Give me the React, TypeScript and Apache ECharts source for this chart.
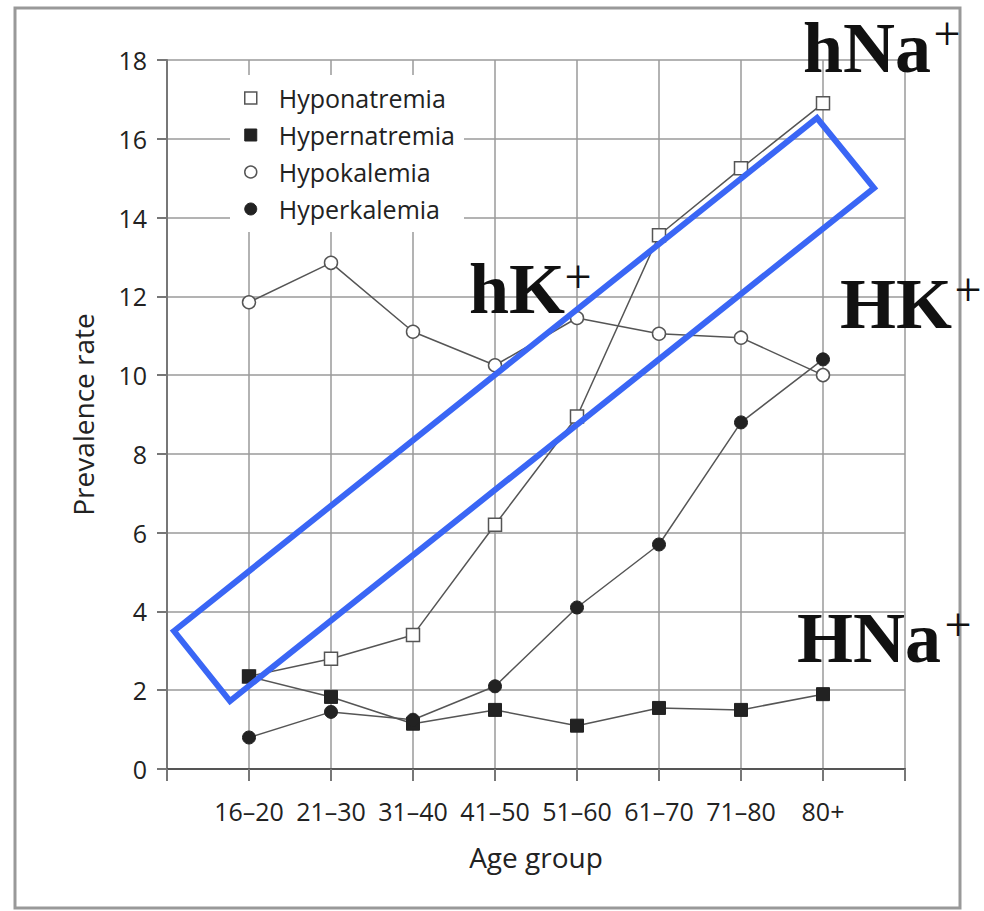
import React, { useEffect, useRef } from "react";
import * as echarts from "echarts";

const categories = ["16–20", "21–30", "31–40", "41–50", "51–60", "61–70", "71–80", "80+"];
const hyponatremia = [2.35, 2.8, 3.4, 6.2, 8.95, 13.55, 15.25, 16.9];
const hypernatremia = [2.35, 1.83, 1.15, 1.5, 1.1, 1.55, 1.5, 1.9];
const hypokalemia = [11.85, 12.85, 11.1, 10.25, 11.45, 11.05, 10.95, 10.0];
const hyperkalemia = [0.8, 1.45, 1.25, 2.1, 4.1, 5.7, 8.8, 10.4];

const FONT = '"Open Sans", "Liberation Sans", sans-serif';
const SERIF = '"Liberation Serif", "Times New Roman", serif';

const openStyle = { color: "#fff", borderColor: "#555", borderWidth: 1.5 };
const filledStyle = { color: "#222", borderColor: "#222", borderWidth: 1 };

function mk(name: string, data: number[], symbol: string, filled: boolean, z: number) {
  return {
    name,
    type: "line",
    data: data.map((v, i) => [i + 1, v]),
    symbol,
    symbolSize: 13,
    showSymbol: true,
    lineStyle: { color: "#555", width: 1.5 },
    itemStyle: filled ? filledStyle : openStyle,
    emphasis: { disabled: true },
    z,
  };
}

export default function App() {
  const ref = useRef<HTMLDivElement>(null);
  useEffect(() => {
    if (!ref.current) return;
    const chart = echarts.init(ref.current, undefined, { renderer: "svg" });
    const gridLine = { show: true, lineStyle: { color: "#9a9a9a", width: 1.5 } };
    const sup = (x: number, y: number) => ({
      type: "text",
      z: 100,
      style: {
        text: "+",
        x,
        y,
        font: `48px ${SERIF}`,
        fill: "#111",
        textAlign: "center",
        textVerticalAlign: "middle",
      },
    });
    const big = (text: string, x: number, y: number) => ({
      type: "text",
      z: 100,
      style: {
        text,
        x,
        y,
        font: `bold 72px ${SERIF}`,
        fill: "#111",
        textAlign: "left",
        textVerticalAlign: "middle",
      },
    });
    chart.setOption({
      animation: false,
      backgroundColor: "#fff",
      textStyle: { fontFamily: FONT },
      grid: { left: 167, right: 79, top: 60, bottom: 142, containLabel: false },
      xAxis: {
        type: "value",
        min: 0,
        max: 9,
        interval: 1,
        name: "Age group",
        nameLocation: "middle",
        nameGap: 74,
        nameTextStyle: { fontSize: 28, color: "#222", fontFamily: FONT },
        axisLine: { show: true, onZero: false, lineStyle: { color: "#555", width: 2 } },
        axisTick: { show: true, length: 12, lineStyle: { color: "#777", width: 2 } },
        axisLabel: {
          fontSize: 25,
          color: "#222",
          margin: 29,
          fontFamily: FONT,
          formatter: (v: number) => categories[v - 1] ?? "",
        },
        splitLine: gridLine,
      },
      yAxis: {
        type: "value",
        min: 0,
        max: 18,
        interval: 2,
        name: "Prevalence rate",
        nameLocation: "middle",
        nameGap: 70,
        nameTextStyle: { fontSize: 28, color: "#222", fontFamily: FONT },
        axisLine: { show: true, lineStyle: { color: "#777", width: 2 } },
        axisTick: { show: true, length: 10, lineStyle: { color: "#777", width: 2 } },
        axisLabel: { fontSize: 25, color: "#222", margin: 20, fontFamily: FONT },
        splitLine: gridLine,
      },
      legend: {
        orient: "vertical",
        left: 230,
        top: 75,
        backgroundColor: "#fff",
        padding: [10, 9, 10, 14],
        itemWidth: 12,
        itemHeight: 12,
        itemGap: 11,
        selectedMode: false,
        textStyle: { fontSize: 25, color: "#222", lineHeight: 26, padding: [0, 0, 0, 17], fontFamily: FONT },
        data: [
          { name: "Hyponatremia", icon: "rect", itemStyle: openStyle },
          { name: "Hypernatremia", icon: "rect", itemStyle: filledStyle },
          { name: "Hypokalemia", icon: "circle", itemStyle: openStyle },
          { name: "Hyperkalemia", icon: "circle", itemStyle: filledStyle },
        ],
        z: 20,
      },
      series: [
        mk("Hyponatremia", hyponatremia, "rect", false, 2),
        mk("Hypernatremia", hypernatremia, "rect", true, 3),
        mk("Hyperkalemia", hyperkalemia, "circle", true, 4),
        mk("Hypokalemia", hypokalemia, "circle", false, 5),
      ],
      graphic: [
        {
          type: "rect",
          z: 90,
          shape: { x: 15, y: 8, width: 945, height: 900 },
          style: { fill: "none", stroke: "#999", lineWidth: 3 },
        },
        {
          type: "polygon",
          z: 95,
          shape: {
            points: [
              [174, 631],
              [817, 118],
              [874, 188],
              [230, 701],
            ],
          },
          style: { fill: "none", stroke: "#3a66f5", lineWidth: 6, lineJoin: "miter" },
        },
        big("hNa", 803, 48),
        sup(947, 33),
        big("hK", 469, 289),
        sup(578, 276),
        big("HK", 840, 304),
        sup(968, 289),
        big("HNa", 797, 638),
        sup(958, 624),
      ],
    });
    return () => chart.dispose();
  }, []);
  return (
    <div
      ref={ref}
      style={{ position: "absolute", left: 0, top: 0, width: 984, height: 911 }}
    />
  );
}
